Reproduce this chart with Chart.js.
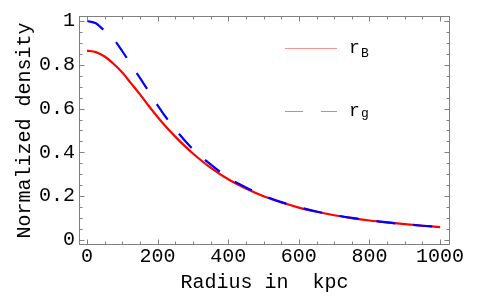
<!DOCTYPE html>
<html>
<head>
<meta charset="utf-8">
<script src="https://cdn.jsdelivr.net/npm/chart.js@4.4.1/dist/chart.umd.min.js"></script>
<style>
  html, body { margin: 0; padding: 0; background: #fff; }
  #wrap { width: 480px; height: 297px; }
</style>
</head>
<body>
<div id="wrap"><canvas id="myChart" width="480" height="297"></canvas></div>
<script>
// radius in kpc
const radius = [0, 25, 50, 75, 100, 125, 150, 175, 200, 225, 250, 275, 300, 350, 400, 450, 500, 550, 600, 650, 700, 750, 800, 850, 900, 950, 1000];
const rB = [0.865, 0.858, 0.838, 0.805, 0.765, 0.715, 0.665, 0.612, 0.562, 0.515, 0.472, 0.432, 0.395, 0.33, 0.277, 0.235, 0.2, 0.172, 0.148, 0.129, 0.113, 0.1, 0.089, 0.08, 0.072, 0.065, 0.059];
const rg = [1.0, 0.99, 0.955, 0.918, 0.862, 0.8, 0.74, 0.678, 0.615, 0.557, 0.505, 0.458, 0.415, 0.345, 0.285, 0.24, 0.203, 0.173, 0.15, 0.13, 0.114, 0.101, 0.09, 0.08, 0.072, 0.065, 0.059];
const xTicks = [0, 200, 400, 600, 800, 1000];
const yTicks = [0, 0.2, 0.4, 0.6, 0.8, 1];

const FONT = "'Liberation Mono', 'DejaVu Sans Mono', monospace";

function toPoints(vals) {
  return radius.map((r, i) => ({ x: r, y: vals[i] }));
}

// frame with inward ticks on all four sides + the little legend
const framePlugin = {
  id: 'frame',
  afterDraw(chart) {
    const ctx = chart.ctx;
    const a = chart.chartArea;
    const xs = chart.scales.x, ys = chart.scales.y;
    ctx.save();
    ctx.strokeStyle = '#808080';
    ctx.lineWidth = 1;
    const L = Math.round(a.left) + 0.5, R = Math.round(a.right) - 0.5;
    const T = Math.round(a.top) + 0.5, B = Math.round(a.bottom) - 0.5;
    ctx.strokeRect(L, T, R - L, B - T);
    ctx.beginPath();
    for (let v = 0; v <= 1000; v += 50) {
      const len = v % 200 === 0 ? 5 : 3;
      const px = Math.round(xs.getPixelForValue(v)) + 0.5;
      ctx.moveTo(px, B); ctx.lineTo(px, B - len);
      ctx.moveTo(px, T); ctx.lineTo(px, T + len);
    }
    for (let k = 0; k <= 20; k++) {
      const v = k * 0.05;
      const len = k % 4 === 0 ? 5 : 3;
      const py = Math.round(ys.getPixelForValue(v)) + 0.5;
      ctx.moveTo(L, py); ctx.lineTo(L + len, py);
      ctx.moveTo(R, py); ctx.lineTo(R - len, py);
    }
    ctx.stroke();

    // legend
    ctx.lineWidth = 1;
    ctx.strokeStyle = '#ff9090';
    ctx.beginPath(); ctx.moveTo(285, 48.5); ctx.lineTo(337, 48.5); ctx.stroke();
    ctx.strokeStyle = '#9090ff';
    ctx.beginPath(); ctx.moveTo(285, 111.5); ctx.lineTo(303, 111.5);
    ctx.moveTo(321, 111.5); ctx.lineTo(337, 111.5); ctx.stroke();
    ctx.fillStyle = '#000';
    ctx.textBaseline = 'alphabetic';
    ctx.font = '18px ' + FONT;
    ctx.fillText('r', 349, 53);
    ctx.fillText('r', 349, 116);
    ctx.font = '13px ' + FONT;
    ctx.fillText('B', 361, 57);
    ctx.fillText('g', 361, 117);
    ctx.restore();
  }
};

const data = {
  datasets: [
    {
      label: 'rB',
      data: toPoints(rB),
      borderColor: '#ff0000',
      borderWidth: 2.2,
      pointRadius: 0,
      cubicInterpolationMode: 'monotone',
      order: 2
    },
    {
      label: 'rg',
      data: toPoints(rg),
      borderColor: '#0000ff',
      borderWidth: 2.2,
      borderDash: [19, 18],
      pointRadius: 0,
      cubicInterpolationMode: 'monotone',
      order: 1
    }
  ]
};

const config = {
  type: 'line',
  data: data,
  options: {
    responsive: false,
    animation: false,
    devicePixelRatio: 1,
    layout: { padding: { top: 15, right: 30, left: 0, bottom: 0 } },
    plugins: { legend: { display: false }, tooltip: { enabled: false } },
    scales: {
      x: {
        type: 'linear',
        min: -22.6,
        max: 1028,
        grid: { display: false, drawTicks: false },
        border: { display: false },
        afterBuildTicks: s => { s.ticks = xTicks.map(v => ({ value: v })); },
        afterFit: s => { s.height = 52; },
        ticks: {
          color: '#000', padding: 0, maxRotation: 0,
          font: { family: FONT, size: 20 },
          callback: v => String(v)
        },
        title: {
          display: true,
          text: 'Radius in  kpc',
          color: '#000',
          padding: { top: 0, bottom: 2 },
          font: { family: FONT, size: 20 }
        }
      },
      y: {
        min: -0.023,
        max: 1.023,
        grid: { display: false, drawTicks: false },
        border: { display: false },
        afterBuildTicks: s => { s.ticks = yTicks.map(v => ({ value: v })); },
        afterFit: s => { s.width = 79; },
        ticks: {
          color: '#000', padding: 4,
          font: { family: FONT, size: 20 },
          callback: v => String(Math.round(v * 10) / 10)
        },
        title: {
          display: true,
          text: 'Normalized density',
          color: '#000',
          padding: { top: 13, bottom: 0 },
          font: { family: FONT, size: 20 }
        }
      }
    }
  },
  plugins: [framePlugin]
};

var myChart = new Chart(document.getElementById('myChart'), config);
</script>
</body>
</html>
